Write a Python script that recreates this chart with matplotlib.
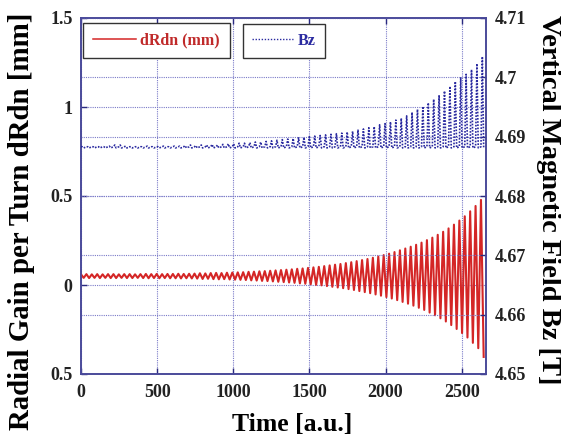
import numpy as np
import matplotlib
matplotlib.use("Agg")
import matplotlib.pyplot as plt
from matplotlib.lines import Line2D

# ---------------- data ----------------
period = 35.5            # time units per oscillation cycle
t_end = 2660.0
# dRdn: per-cycle maximum and minimum [mm]
drdn_max = [0.060, 0.061, 0.060, 0.061, 0.060, 0.061, 0.061, 0.060, 0.061, 0.061,
            0.060, 0.061, 0.062, 0.061, 0.062, 0.061, 0.062, 0.062, 0.063, 0.062,
            0.063, 0.064, 0.066, 0.065, 0.067, 0.068, 0.067, 0.069,
            0.070, 0.071, 0.072, 0.074, 0.075, 0.077, 0.078, 0.080, 0.082, 0.084, 0.086,
            0.088, 0.091, 0.093, 0.096, 0.099, 0.102, 0.106, 0.110, 0.114, 0.118, 0.123,
            0.128, 0.134, 0.140, 0.146, 0.153, 0.160, 0.168, 0.176, 0.185, 0.195, 0.205,
            0.215, 0.226, 0.238, 0.252, 0.266, 0.282, 0.299, 0.318, 0.339, 0.362, 0.386,
            0.414, 0.444, 0.478]
drdn_min = [0.040, 0.039, 0.040, 0.039, 0.040, 0.039, 0.039, 0.040, 0.039, 0.039,
            0.040, 0.039, 0.038, 0.039, 0.038, 0.039, 0.038, 0.038, 0.037, 0.038,
            0.037, 0.036, 0.034, 0.035, 0.033, 0.032, 0.033, 0.031,
            0.030, 0.029, 0.028, 0.026, 0.025, 0.023, 0.022, 0.020, 0.018, 0.016, 0.014,
            0.012, 0.009, 0.007, 0.004, 0.001, -0.002, -0.006, -0.010, -0.014, -0.018, -0.023,
            -0.028, -0.034, -0.040, -0.046, -0.053, -0.060, -0.068, -0.076, -0.085, -0.095, -0.105,
            -0.116, -0.128, -0.140, -0.155, -0.170, -0.187, -0.205, -0.225, -0.247, -0.270, -0.295,
            -0.325, -0.355, -0.404]
# Bz: baseline, per-cycle spike height above baseline [T]
bz_base = 4.6883
bz_dip = 4.6881
bz_spike = [0.0000, 0.0000, 0.0000, 0.0000, 0.0000, 0.0001, 0.0003, 0.0003, 0.0001, 0.0000,
            0.0000, 0.0000, 0.0001, 0.0000, 0.0000, 0.0001, 0.0000, 0.0001, 0.0001, 0.0002,
            0.0003, 0.0002, 0.0003, 0.0003, 0.0004, 0.0003, 0.0004, 0.0005,
            0.0005, 0.0006, 0.0006, 0.0007, 0.0008, 0.0008, 0.0009, 0.0010, 0.0011, 0.0012, 0.0013,
            0.0014, 0.0015, 0.0016, 0.0017, 0.0018, 0.0019, 0.0020, 0.0021, 0.0022, 0.0023, 0.0025,
            0.0026, 0.0028, 0.0030, 0.0032, 0.0034, 0.0037, 0.0039, 0.0042, 0.0045, 0.0048, 0.0052,
            0.0058, 0.0063, 0.0068, 0.0074, 0.0080, 0.0087, 0.0094, 0.0102, 0.0110, 0.0116, 0.0122,
            0.0130, 0.0140, 0.0152]

x_ticks = [0, 500, 1000, 1500, 2000, 2500]
left_ticks = [-0.5, 0, 0.5, 1, 1.5]
left_labels = ["0.5", "0", "0.5", "1", "1.5"]
right_ticks = [4.65, 4.66, 4.67, 4.68, 4.69, 4.70, 4.71]
right_labels = ["4.65", "4.66", "4.67", "4.68", "4.69", "4.7", "4.71"]

# ---------------- build zig-zag traces ----------------
n = len(drdn_max)
t_r, y_r = [], []
for i in range(n):
    t0 = min(i * period, t_end)
    t_r += [t0, min(t0 + period / 2, t_end)]
    y_r += [drdn_max[i], drdn_min[i]]
t_b, y_b = [], []
for i in range(n):
    t0 = min(i * period, t_end)
    t_b += [t0, min(t0 + 0.25 * period, t_end), min(t0 + 0.5 * period, t_end)]
    y_b += [bz_base, bz_base + bz_spike[i], bz_dip]

# ---------------- plot ----------------
plt.rcParams['font.family'] = ['Liberation Serif', 'DejaVu Serif']
plt.rcParams['font.weight'] = 'bold'

fig = plt.figure(figsize=(5.61, 4.41), dpi=100)
ax = fig.add_axes([81 / 561, 1 - 374 / 441, (486 - 81) / 561, (374 - 18) / 441])
ax2 = ax.twinx()

frame_c = '#4a4a9a'
grid_c = '#7a7ac8'

ax.plot(t_r, y_r, color='#d42626', lw=1.5, zorder=3)
ax2.plot(t_b, y_b, color='#2a2aa0', lw=1.2, ls=(0, (1, 0.9)), zorder=3)

ax.set_xlim(0, t_end)
ax.set_ylim(-0.5, 1.5)
ax2.set_ylim(4.65, 4.71)
ax.set_xticks(x_ticks)
ax.set_xticklabels([str(v) for v in x_ticks])
ax.set_yticks(left_ticks)
ax.set_yticklabels(left_labels)
ax2.set_yticks(right_ticks)
ax2.set_yticklabels(right_labels)

for a in (ax, ax2):
    for s in a.spines.values():
        s.set_color(frame_c)
        s.set_linewidth(1.2)
    a.tick_params(direction='in', length=4, width=1, color='#2a2a80',
                  labelsize=13, labelcolor='#222222', top=True)
ax.tick_params(axis='x', pad=7)
ax.tick_params(axis='y', pad=6)
ax2.tick_params(axis='y', pad=6)

ax.grid(True, color=grid_c, ls=(0, (1, 1)), lw=0.8)
ax2.grid(True, axis='y', color=grid_c, ls=(0, (1, 1)), lw=0.8)
ax.set_axisbelow(True)
ax2.set_axisbelow(True)

fig.text(292 / 561, 1 - 425 / 441, 'Time [a.u.]', fontsize=18.5, fontweight='bold',
         ha='center', va='center')
fig.text(22 / 561, 1 - 221 / 441, 'Radial Gain per Turn dRdn [mm]', fontsize=20.8,
         fontweight='bold', rotation=90, ha='center', va='center')
fig.text(548 / 561, 1 - 200 / 441, 'Vertical Magnetic Field Bz [T]', fontsize=20.5,
         fontweight='bold', rotation=270, ha='center', va='center')

h1 = Line2D([], [], color='#d42626', lw=1.1)
h2 = Line2D([], [], color='#2a2aa0', lw=1.0, ls=(0, (1, 1.2)))
leg1 = ax2.legend([h1], ['dRdn (mm)'], loc='upper left',
                  bbox_to_anchor=(83 / 561, 1 - 23 / 441), bbox_transform=fig.transFigure,
                  borderaxespad=0, fancybox=False, edgecolor='#333333', framealpha=1,
                  prop={'size': 11.5, 'weight': 'bold'}, labelcolor='#c02a2a',
                  handlelength=2.7, handletextpad=0.3, borderpad=0.6)
leg1.get_frame().set_linewidth(1.0)
ax2.add_artist(leg1)
leg2 = ax2.legend([h2], ['Bz'], loc='upper left',
                  bbox_to_anchor=(243 / 561, 1 - 24 / 441), bbox_transform=fig.transFigure,
                  borderaxespad=0, fancybox=False, edgecolor='#333333', framealpha=1,
                  prop={'size': 11.5, 'weight': 'bold'}, labelcolor='#2a2aa0',
                  handlelength=2.6, handletextpad=0.3, borderpad=0.55)
leg2.get_frame().set_linewidth(1.0)

fig.savefig('out.png', dpi=100)
